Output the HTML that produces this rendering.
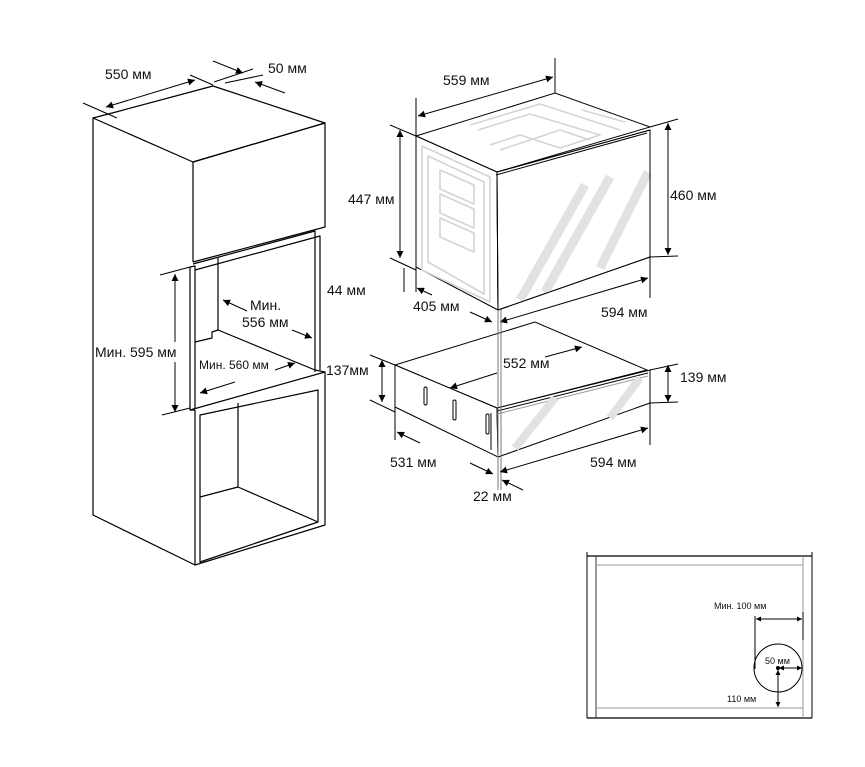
<!DOCTYPE html>
<html><head><meta charset="utf-8"><style>
html,body{margin:0;padding:0;background:#fff;}
svg{display:block;}
text{font-family:"Liberation Sans",sans-serif;fill:#111;}
</style></head><body>
<svg width="865" height="767" viewBox="0 0 865 767" xmlns="http://www.w3.org/2000/svg">
<defs>
<marker id="a" viewBox="0 0 10 10" refX="10" refY="5" markerWidth="9" markerHeight="7" orient="auto-start-reverse" markerUnits="userSpaceOnUse"><path d="M0,0 L10,5 L0,10 z" fill="#000"/></marker>
<marker id="s" viewBox="0 0 10 10" refX="10" refY="5" markerWidth="7" markerHeight="5" orient="auto-start-reverse" markerUnits="userSpaceOnUse"><path d="M0,0 L10,5 L0,10 z" fill="#000"/></marker>
</defs>
<g fill="none" stroke="#000" stroke-width="1.2" stroke-linejoin="round">
<polygon points="93,118 116,112 213,86 325,123 193,162" fill="#fff"/>
<polyline points="93,118 93,515 195,565 195,410"/>
<line x1="193" y1="162" x2="193" y2="262"/>
<polyline points="193,162 325,123 325,227 193,262"/>
<polyline points="190,267 190,410 195,410"/>
<polyline points="190,267 195,266 195,408"/>
<polyline points="193,264 315,231 315,372"/>
<polyline points="195,270 320,236 320,370"/>
<line x1="218" y1="258" x2="218" y2="330"/>
<polyline points="195,342 212,338 212,332 218,330 315,370 325,372"/>
<polyline points="190,410 325,372 325,525 195,565"/>
<polygon points="200,415 318,390 318,522 200,562"/>
<polyline points="238,403 238,487 318,522"/>
<line x1="238" y1="487" x2="200" y2="497"/>
</g>
<g stroke="#000" stroke-width="1" fill="none">
<line x1="83" y1="103" x2="117" y2="118"/>
<line x1="190" y1="75" x2="213" y2="85"/>
<line x1="106" y1="107" x2="195" y2="80" marker-start="url(#a)" marker-end="url(#a)"/>
<line x1="213" y1="61" x2="243" y2="73" marker-end="url(#a)"/>
<line x1="214" y1="82" x2="253" y2="69"/>
<line x1="285" y1="93" x2="255" y2="82" marker-end="url(#a)"/>
<line x1="225" y1="83" x2="263" y2="75"/>
<line x1="160" y1="275" x2="190" y2="267"/>
<line x1="162" y1="415" x2="190" y2="408"/>
<line x1="175" y1="274" x2="175" y2="342" marker-start="url(#a)"/>
<line x1="175" y1="362" x2="175" y2="412" marker-end="url(#a)"/>
<line x1="247" y1="311" x2="223" y2="300" marker-end="url(#a)"/>
<line x1="292" y1="330" x2="312" y2="338" marker-end="url(#a)"/>
<line x1="275" y1="370" x2="295" y2="363" marker-end="url(#a)"/>
<line x1="235" y1="382" x2="200" y2="393" marker-end="url(#a)"/>
</g>
<!-- OVEN -->
<g fill="none" stroke="#000" stroke-width="1">
<polygon points="416,136 555,93 650,127 497,172" fill="#fff"/>
<polygon points="416,136 497,172 498,310 416,267" fill="#fff"/>
<polygon points="497,172 650,130 650,257 498,310" fill="#fff"/>
<line x1="496" y1="175" x2="647" y2="133"/>
</g>
<g fill="none" stroke="#d4d4d4" stroke-width="1.6" stroke-linejoin="round">
<polygon points="422,146 490,177 490,302 422,270"/>
<polygon points="428,156 484,182 484,294 428,262"/>
<polygon points="440,170 474,185 474,204 440,189"/>
<polygon points="440,194 474,209 474,228 440,213"/>
<polygon points="440,218 474,233 474,252 440,237"/>
<polyline points="478,130 530,114 600,135 560,148 520,135 490,145"/>
<polyline points="500,150 560,130 590,140"/>
<polyline points="470,125 540,104 620,130"/>
<polyline points="582,110 625,122"/>
</g>
<g fill="none" stroke="#e2e2e2" stroke-width="9">
<line x1="520" y1="300" x2="585" y2="185"/>
<line x1="545" y1="292" x2="610" y2="177"/>
<line x1="600" y1="268" x2="648" y2="172"/>
</g>
<g fill="none" stroke="#000" stroke-width="1">
<polygon points="497,172 650,130 650,257 498,310"/>
<polygon points="395,365 535,322 647,370 497,408" fill="#fff"/>
<polygon points="395,365 497,408 498,457 395,407" fill="#fff"/>
<polygon points="497,408 650,370 650,403 498,457" fill="#fff"/>
<line x1="497" y1="411" x2="648" y2="373"/>
<line x1="497" y1="414" x2="648" y2="376" stroke="#999"/>
<rect x="424" y="387" width="3" height="18" rx="1.5"/>
<rect x="453" y="400" width="3" height="20" rx="1.5"/>
<rect x="486" y="414" width="3" height="20" rx="1.5"/>
<line x1="491" y1="413" x2="491" y2="450"/>
</g>
<g fill="none" stroke="#e2e2e2" stroke-width="8">
<line x1="515" y1="448" x2="555" y2="398"/>
<line x1="610" y1="418" x2="640" y2="378"/>
</g>
<g stroke="#000" stroke-width="1" fill="none">
<line x1="416" y1="98" x2="416" y2="136"/>
<line x1="555" y1="58" x2="555" y2="93"/>
<line x1="418" y1="116" x2="553" y2="77" marker-start="url(#a)" marker-end="url(#a)"/>
<line x1="390" y1="125" x2="416" y2="136"/>
<line x1="390" y1="258" x2="416" y2="270"/>
<line x1="400" y1="130" x2="400" y2="258" marker-start="url(#a)" marker-end="url(#a)"/>
<line x1="650" y1="127" x2="678" y2="119"/>
<line x1="650" y1="257" x2="678" y2="256"/>
<line x1="668" y1="123" x2="668" y2="255" marker-start="url(#a)" marker-end="url(#a)"/>
<line x1="404" y1="268" x2="404" y2="292"/>
<line x1="416" y1="267" x2="416" y2="292"/>
<line x1="417" y1="288" x2="432" y2="295" marker-start="url(#a)"/>
<line x1="470" y1="312" x2="492" y2="322" marker-end="url(#a)"/>
<line x1="650" y1="257" x2="650" y2="298"/>
<line x1="500" y1="322" x2="648" y2="278" marker-start="url(#a)" marker-end="url(#a)"/>
<line x1="498" y1="310" x2="498" y2="490" stroke="#777"/>
<line x1="501" y1="310" x2="501" y2="490" stroke="#777"/>
<line x1="545" y1="357" x2="582" y2="347" marker-end="url(#a)"/>
<line x1="497" y1="373" x2="450" y2="388" marker-end="url(#a)"/>
<line x1="370" y1="355" x2="395" y2="365"/>
<line x1="370" y1="400" x2="395" y2="412"/>
<line x1="382" y1="360" x2="382" y2="402" marker-start="url(#a)" marker-end="url(#a)"/>
<line x1="650" y1="370" x2="678" y2="364"/>
<line x1="650" y1="403" x2="678" y2="402"/>
<line x1="668" y1="365" x2="668" y2="402" marker-start="url(#a)" marker-end="url(#a)"/>
<line x1="395" y1="407" x2="395" y2="440"/>
<line x1="650" y1="403" x2="650" y2="445"/>
<line x1="397" y1="432" x2="420" y2="443" marker-start="url(#a)"/>
<line x1="470" y1="463" x2="493" y2="474" marker-end="url(#a)"/>
<line x1="500" y1="472" x2="648" y2="428" marker-start="url(#a)" marker-end="url(#a)"/>
<line x1="523" y1="490" x2="502" y2="480" marker-end="url(#a)"/>
</g>
<g fill="none" stroke-width="1">
<line x1="587" y1="552" x2="587" y2="718" stroke="#000"/>
<line x1="812" y1="552" x2="812" y2="718" stroke="#000"/>
<line x1="587" y1="556" x2="812" y2="556" stroke="#000" stroke-width="1.3"/>
<line x1="587" y1="718" x2="812" y2="718" stroke="#000" stroke-width="1.3"/>
<line x1="596" y1="556" x2="596" y2="718" stroke="#333"/>
<line x1="803" y1="556" x2="803" y2="718" stroke="#999"/>
<line x1="596" y1="565" x2="803" y2="565" stroke="#999"/>
<line x1="596" y1="708" x2="803" y2="708" stroke="#999"/>
<circle cx="778" cy="668" r="24" stroke="#000"/>
<line x1="755" y1="616" x2="755" y2="669" stroke="#000"/>
<line x1="803" y1="612" x2="803" y2="640" stroke="#000"/>
<line x1="756" y1="619" x2="802" y2="619" stroke="#000" marker-start="url(#s)" marker-end="url(#s)"/>
<line x1="779" y1="668" x2="802" y2="668" stroke="#000" marker-start="url(#s)" marker-end="url(#s)"/>
<line x1="778" y1="670" x2="778" y2="707" stroke="#000" marker-start="url(#s)" marker-end="url(#s)"/>
</g>
<circle cx="778" cy="668" r="2" fill="#000"/>
<g font-size="14">
<text x="105" y="79">550 мм</text>
<text x="268" y="73">50 мм</text>
<text x="443" y="85">559 мм</text>
<text x="348" y="204">447 мм</text>
<text x="670" y="200">460 мм</text>
<text x="327" y="295">44 мм</text>
<text x="250" y="310">Мин.</text>
<text x="242" y="327">556 мм</text>
<text x="95" y="357">Мин. 595 мм</text>
<text x="199" y="369" font-size="12">Мин. 560 мм</text>
<text x="326" y="375">137мм</text>
<text x="413" y="311">405 мм</text>
<text x="601" y="317">594 мм</text>
<text x="503" y="368">552 мм</text>
<text x="680" y="382">139 мм</text>
<text x="390" y="467">531 мм</text>
<text x="590" y="467">594 мм</text>
<text x="473" y="501">22 мм</text>
</g>
<g font-size="9">
<text x="714" y="609">Мин. 100 мм</text>
<text x="765" y="664">50 мм</text>
<text x="727" y="702">110 мм</text>
</g>
</svg>
</body></html>
